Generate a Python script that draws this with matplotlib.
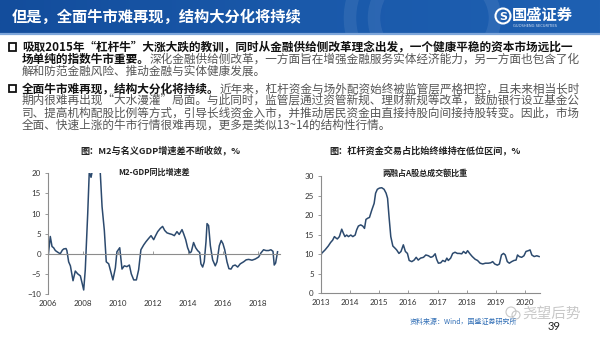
import numpy as np
import matplotlib.pyplot as plt
from matplotlib.colors import LinearSegmentedColormap
from matplotlib.patches import Rectangle, Arc, Circle

plt.rcParams['font.family'] = ['Noto Sans CJK SC', 'DejaVu Sans']

# M2-GDP同比增速差, %
m2_t = [2006.0, 2006.13, 2006.23, 2006.32, 2006.42, 2006.55, 2006.7, 2006.82, 2006.9, 2007.03,
        2007.08, 2007.18, 2007.28, 2007.43, 2007.56, 2007.7, 2007.85, 2007.96, 2008.04, 2008.13,
        2008.27, 2008.36, 2008.46, 2008.55, 2008.7, 2008.85, 2008.99, 2009.09, 2009.22, 2009.33,
        2009.47, 2009.62, 2009.71, 2009.85, 2009.94, 2010.1, 2010.23, 2010.36, 2010.51, 2010.65,
        2010.76, 2010.9, 2011.05, 2011.18, 2011.31, 2011.47, 2011.6, 2011.75, 2011.89, 2012.04,
        2012.15, 2012.27, 2012.42, 2012.55, 2012.67, 2012.8, 2012.93, 2013.09, 2013.22, 2013.37,
        2013.5, 2013.66, 2013.75, 2013.87, 2013.98, 2014.1, 2014.19, 2014.32, 2014.44, 2014.55,
        2014.67, 2014.74, 2014.84, 2014.93, 2015.03, 2015.09, 2015.18, 2015.28, 2015.41, 2015.56,
        2015.66, 2015.79, 2015.9, 2016.0, 2016.1, 2016.23, 2016.34, 2016.46, 2016.57, 2016.7,
        2016.84, 2016.99, 2017.18, 2017.33, 2017.47, 2017.66, 2017.85, 2018.04, 2018.17, 2018.32,
        2018.46, 2018.61, 2018.74, 2018.86, 2018.93, 2019.01, 2019.12]
m2_v = [-1.0, 4.3, 1.8, 1.5, 0.8, 0.4, 0.0, 0.9, 1.2, 1.3,
        0.8, -2.0, -3.0, -6.7, -4.3, -5.0, -5.5, -7.5, -9.0, -4.0,
        10.0, 20.5, 19.0, 21.0, 25.0, 24.5, 20.0, 11.7, 5.8, -2.0,
        -2.5, -5.0, -6.5, -3.5, 0.5, 1.5, -3.8, -3.0, -3.2, -2.8,
        -5.0, -6.5, -6.5, -4.0, 1.0, 2.2, 3.0, 3.8, 4.5, 3.5,
        4.5, 5.5, 6.3, 6.8, 5.8, 5.2, 5.0, 4.8, 4.5, 5.5,
        4.8, 6.0, 5.0, 3.5, 1.5, 0.2, 0.5, 2.8, 1.5, 0.8,
        0.3, -2.5, -3.3, -2.0, 3.0, 7.5, 7.0, 2.0, -1.5, -3.0,
        -2.0, 2.0, 3.3, 2.5, 1.0, -2.0, -3.7, -3.8, -3.0, -2.8,
        -3.3, -2.5, -2.0, -1.5, -1.4, -1.6, -1.3, -0.8, 0.2, 1.0,
        0.8, 0.8, 1.0, 0.6, -2.8, -2.3, 0.5]

# 两融占A股总成交额比重, %
lr_t = [2013.0, 2013.03, 2013.15, 2013.26, 2013.34, 2013.41, 2013.47, 2013.53, 2013.57, 2013.64,
        2013.72, 2013.78, 2013.83, 2013.89, 2013.95, 2014.03, 2014.1, 2014.18, 2014.23, 2014.29,
        2014.37, 2014.44, 2014.5, 2014.55, 2014.61, 2014.67, 2014.75, 2014.83, 2014.88, 2014.94,
        2015.01, 2015.09, 2015.17, 2015.24, 2015.29, 2015.34, 2015.4, 2015.47, 2015.55, 2015.6,
        2015.68, 2015.75, 2015.83, 2015.9, 2015.97, 2016.03, 2016.12, 2016.2, 2016.27, 2016.34,
        2016.42, 2016.52, 2016.6, 2016.69, 2016.77, 2016.84, 2016.92, 2016.97, 2017.03, 2017.11,
        2017.18, 2017.26, 2017.32, 2017.37, 2017.45, 2017.52, 2017.6, 2017.68, 2017.75, 2017.83,
        2017.89, 2017.97, 2018.03, 2018.11, 2018.19, 2018.29, 2018.37, 2018.46, 2018.55, 2018.64,
        2018.74, 2018.82, 2018.89, 2018.96, 2019.05, 2019.12, 2019.19, 2019.26, 2019.32, 2019.39,
        2019.46, 2019.54, 2019.62, 2019.69, 2019.74, 2019.8, 2019.88, 2019.96, 2020.03, 2020.11,
        2020.17, 2020.23, 2020.31, 2020.4, 2020.48]
lr_v = [9.2, 10.2, 11.1, 12.1, 13.0, 13.6, 14.5, 14.1, 13.9, 14.5,
        16.4, 15.3, 14.5, 14.9, 14.5, 14.9, 14.5, 14.9, 16.2, 17.2,
        17.5, 17.2, 16.6, 18.9, 19.2, 19.4, 21.3, 23.0, 25.6, 26.6,
        26.9, 27.0, 26.6, 25.6, 24.3, 19.6, 14.5, 12.1, 11.5, 11.1,
        10.2, 10.7, 12.4, 10.7, 10.2, 8.4, 8.1, 8.5, 9.2, 8.5,
        9.0, 9.2, 9.8, 9.6, 9.2, 9.4, 10.1, 8.7, 7.7, 7.8,
        8.4, 8.1, 9.0, 8.4, 9.0, 10.2, 10.5, 10.2, 10.2, 10.1,
        10.7, 10.2, 10.9, 10.1, 9.4, 8.7, 8.4, 7.7, 7.5, 7.7,
        7.7, 7.8, 8.1, 7.5, 7.2, 7.5, 9.8, 10.2, 9.8, 8.1,
        7.7, 8.1, 8.4, 8.5, 9.8, 9.4, 9.2, 9.6, 10.7, 10.9,
        11.1, 9.8, 9.4, 9.6, 9.4]

left_xticks = [2006, 2008, 2010, 2012, 2014, 2016, 2018]
left_yticks = [-10, -5, 0, 5, 10, 15, 20]
right_xticks = [2013, 2014, 2015, 2016, 2017, 2018, 2019, 2020]
right_yticks = [0, 5, 10, 15, 20, 25, 30]

title = '但是，全面牛市难再现，结构大分化将持续'
paragraphs = [
    [('吸取2015年“杠杆牛”大涨大跌的教训，同时从金融供给侧改革理念出发，一个健康平稳的资本市场远比一', ''),
     ('场单纯的指数牛市重要。', '深化金融供给侧改革，一方面旨在增强金融服务实体经济能力，另一方面也包含了化'),
     ('', '解和防范金融风险、推动金融与实体健康发展。')],
    [('全面牛市难再现，结构大分化将持续。', '近年来，杠杆资金与场外配资始终被监管层严格把控，且未来相当长时'),
     ('', '期内很难再出现“大水漫灌”局面。与此同时，监管层通过资管新规、理财新规等改革，鼓励银行设立基金公'),
     ('', '司、提高机构配股比例等方式，引导长线资金入市，并推动居民资金由直接持股向间接持股转变。因此，市场'),
     ('', '全面、快速上涨的牛市行情很难再现，更多是类似13~14的结构性行情。')],
]
left_title = '图：M2与名义GDP增速差不断收敛，%'
left_inner = 'M2-GDP同比增速差'
right_title = '图：杠杆资金交易占比始终维持在低位区间，%'
right_inner = '两融占A股总成交额比重'
source = '资料来源：Wind，国盛证券研究所'

W, H = 600, 338
line_c = '#2C4A6E'
axis_c = '#8C8C8C'
num_font = ['Lato', 'DejaVu Sans']

fig = plt.figure(figsize=(6, 3.38), dpi=100)


def box(x0, y0, x1, y1):
    return [x0 / W, 1 - y1 / H, (x1 - x0) / W, (y1 - y0) / H]


def style_axes(ax):
    ax.patch.set_alpha(0)
    for s in ['top', 'right']:
        ax.spines[s].set_visible(False)
    for s in ['left', 'bottom']:
        ax.spines[s].set_color(axis_c)
        ax.spines[s].set_linewidth(0.8)
    ax.tick_params(axis='y', direction='out', length=2.5, width=0.6, color=axis_c,
                   labelsize=5.8, labelcolor='#333333', pad=2.5)
    for lab in ax.get_xticklabels() + ax.get_yticklabels():
        lab.set_family(num_font)


# left chart
ax1 = fig.add_axes(box(48, 173.3, 280, 294))
ax1.plot(m2_t, m2_v, color=line_c, lw=1.1)
ax1.set_xlim(2006, 2019.26)
ax1.set_ylim(-10, 20)
ax1.set_xticks(left_xticks)
ax1.set_yticks(left_yticks)
ax1.spines['bottom'].set_position(('data', 0))
ax1.tick_params(axis='x', direction='in', length=2, width=0.6, color=axis_c,
                labelsize=5.8, labelcolor='#333333', pad=33)
style_axes(ax1)

# right chart
ax2 = fig.add_axes(box(320.7, 176, 540, 293.3))
ax2.plot(lr_t, lr_v, color=line_c, lw=1.1)
ax2.set_xlim(2013, 2020.51)
ax2.set_ylim(0, 30)
ax2.set_xticks(right_xticks)
ax2.set_yticks(right_yticks)
ax2.tick_params(axis='x', direction='in', length=2, width=0.6, color=axis_c,
                labelsize=5.8, labelcolor='#333333', pad=4)
style_axes(ax2)

# overlay in pixel coordinates for header, text and decorations
bg = fig.add_axes([0, 0, 1, 1], zorder=5)
bg.axis('off')

cmap = LinearSegmentedColormap.from_list('hdr', ['#134D9C', '#1A59AA', '#1E60B2'])
bg.imshow(np.linspace(0, 1, 256)[None, :], extent=(0, W, 33, 0), cmap=cmap, aspect='auto')
band = Rectangle((0, 0), W, 33, facecolor='none', edgecolor='none')
bg.add_patch(band)
for cx, r, t1, t2 in [(420, 70, 110, 250), (420, 46, 120, 240), (455, 40, -60, 60)]:
    a = Arc((cx, 18), 2 * r, 2 * r, theta1=t1, theta2=t2, color='white', lw=9, alpha=0.08)
    bg.add_patch(a)
    a.set_clip_path(band)
bg.plot([0, W], [33.8, 33.8], color='#7EA6DA', lw=1.6)

bg.text(12, 16.5, title, color='white', fontsize=11, fontweight='bold', va='center')

# logo
bg.add_patch(Circle((503, 16), 7.5, facecolor='none', edgecolor='white', lw=1.5))
bg.text(503, 16.5, 'S', color='white', fontsize=8, fontweight='bold',
        ha='center', va='center', family=['DejaVu Sans'])
bg.text(512, 14.5, '国盛证券', color='white', fontsize=11, fontweight='bold', va='center')
bg.text(513, 26, 'GUOSHENG SECURITIES', color='#DCE6F5', fontsize=2.6, va='center',
        family=['DejaVu Sans'])

# body text
fs = 8.4
y = 47
for para in paragraphs:
    for i, (bold, normal) in enumerate(para):
        if i == 0:
            bg.add_patch(Rectangle((8.5, y - 4), 7.5, 7.5, facecolor='none',
                                   edgecolor='#111111', lw=1.3))
        t = bg.text(22, y, bold, fontsize=fs, fontweight='bold', color='#111111', va='center')
        if normal:
            bg.annotate(normal, xy=(1, 0.5), xycoords=t, va='center', ha='left',
                        fontsize=fs, color='#555555')
        y += 12.2
    y += 5

# chart titles
bg.text(160, 150, left_title, fontsize=6.6, fontweight='bold', color='#222222',
        ha='center', va='center')
bg.text(154, 172, left_inner, fontsize=5.8, fontweight='bold', color='#222222',
        ha='center', va='center')
bg.text(425, 150, right_title, fontsize=6.6, fontweight='bold', color='#222222',
        ha='center', va='center')
bg.text(425, 173, right_inner, fontsize=5.8, fontweight='bold', color='#222222',
        ha='center', va='center')

# footer
bg.text(410, 322, source, fontsize=5, color='#2F6DB5', style='italic', va='center')
bg.text(548, 326, '39', fontsize=8, color='#222222', va='center', family=num_font)

# watermark
bg.add_patch(Circle((511, 312), 5, facecolor='none', edgecolor='#BBBBBB', lw=0.8, alpha=0.8))
bg.add_patch(Circle((516, 315), 4, facecolor='none', edgecolor='#BBBBBB', lw=0.8, alpha=0.8))
bg.text(522, 313.5, '尧望后势', fontsize=10.5, color='#BBBBBB', alpha=0.8, va='center')

bg.set_xlim(0, W)
bg.set_ylim(H, 0)

fig.savefig('out.png', dpi=100)
